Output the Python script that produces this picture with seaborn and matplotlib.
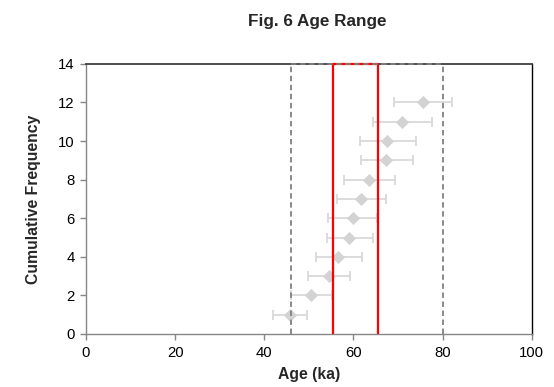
import matplotlib
matplotlib.use("Agg")
import matplotlib.pyplot as plt
import seaborn as sns
import numpy as np
import pandas as pd

# ages (ka) with lower / upper error ends
ages = [45.7, 50.4, 54.5, 56.6, 59.0, 60.0, 61.8, 63.5, 67.3, 67.6, 70.9, 75.6]
err_low = [41.9, 46.1, 49.8, 51.6, 54.0, 54.3, 56.3, 57.9, 61.6, 61.5, 64.3, 69.1]
err_high = [49.6, 55.1, 59.2, 61.9, 64.3, 65.3, 67.3, 69.3, 73.4, 74.0, 77.6, 82.2]
cum_freq = list(range(1, 13))

# age range boxes
full_range = [46.0, 80.1]
core_range = [55.5, 65.5]

df = pd.DataFrame({"Age": ages, "Freq": cum_freq, "lo": err_low, "hi": err_high})

sns.set_theme(style="white")
plt.rcParams["font.family"] = ["Liberation Sans", "DejaVu Sans"]

fig = plt.figure(figsize=(5.54, 3.87), dpi=100)
ax = fig.add_axes([0.155, 0.137, 0.805, 0.698])

xerr = np.array([df["Age"] - df["lo"], df["hi"] - df["Age"]])
ax.errorbar(df["Age"], df["Freq"], xerr=xerr, fmt="none", ecolor="#d9d9d9",
            elinewidth=1.3, capsize=3.5, capthick=1.3, zorder=2)
sns.scatterplot(data=df, x="Age", y="Freq", marker="D", color="#d3d3d3",
                s=45, edgecolor="#d3d3d3", linewidth=0, ax=ax, zorder=3)

# red box (core range)
ax.plot([core_range[0], core_range[0]], [0, 14], color="#ff0000", lw=1.6, zorder=4)
ax.plot([core_range[1], core_range[1]], [0, 14], color="#ff0000", lw=1.6, zorder=4)
ax.plot(core_range, [14, 14], color="#ff0000", lw=1.6, zorder=4, clip_on=False)

# grey dashed box (full range)
for xv in full_range:
    ax.plot([xv, xv], [0, 14], color="#808080", lw=1.3, ls=(0, (3, 2)), zorder=4)
ax.plot(full_range, [14, 14], color="#808080", lw=1.3, ls=(0, (3, 2)), zorder=5, clip_on=False)

ax.set_xlim(0, 100)
ax.set_ylim(0, 14)
ax.set_xticks(range(0, 101, 20))
ax.set_yticks(range(0, 15, 2))

for side in ["left", "bottom"]:
    ax.spines[side].set_color("#868686")
    ax.spines[side].set_linewidth(1.0)
ax.spines["top"].set_color("#404040")
ax.spines["top"].set_linewidth(1.3)
ax.spines["right"].set_color("#000000")
ax.spines["right"].set_linewidth(1.0)

ax.tick_params(axis="both", which="major", direction="out", length=4, width=1,
               color="#868686", labelsize=10.7, labelcolor="black")
ax.tick_params(axis="x", pad=5)
ax.tick_params(axis="y", pad=4)
ax.tick_params(left=True, bottom=True)

ax.set_xlabel("Age (ka)", fontsize=11.3, fontweight="bold", labelpad=5)
ax.set_ylabel("Cumulative Frequency", fontsize=11.3, fontweight="bold", labelpad=12)
fig.suptitle("Fig. 6 Age Range", fontsize=12.3, fontweight="bold", x=0.572, y=0.965)

fig.savefig("out.png", dpi=100)
